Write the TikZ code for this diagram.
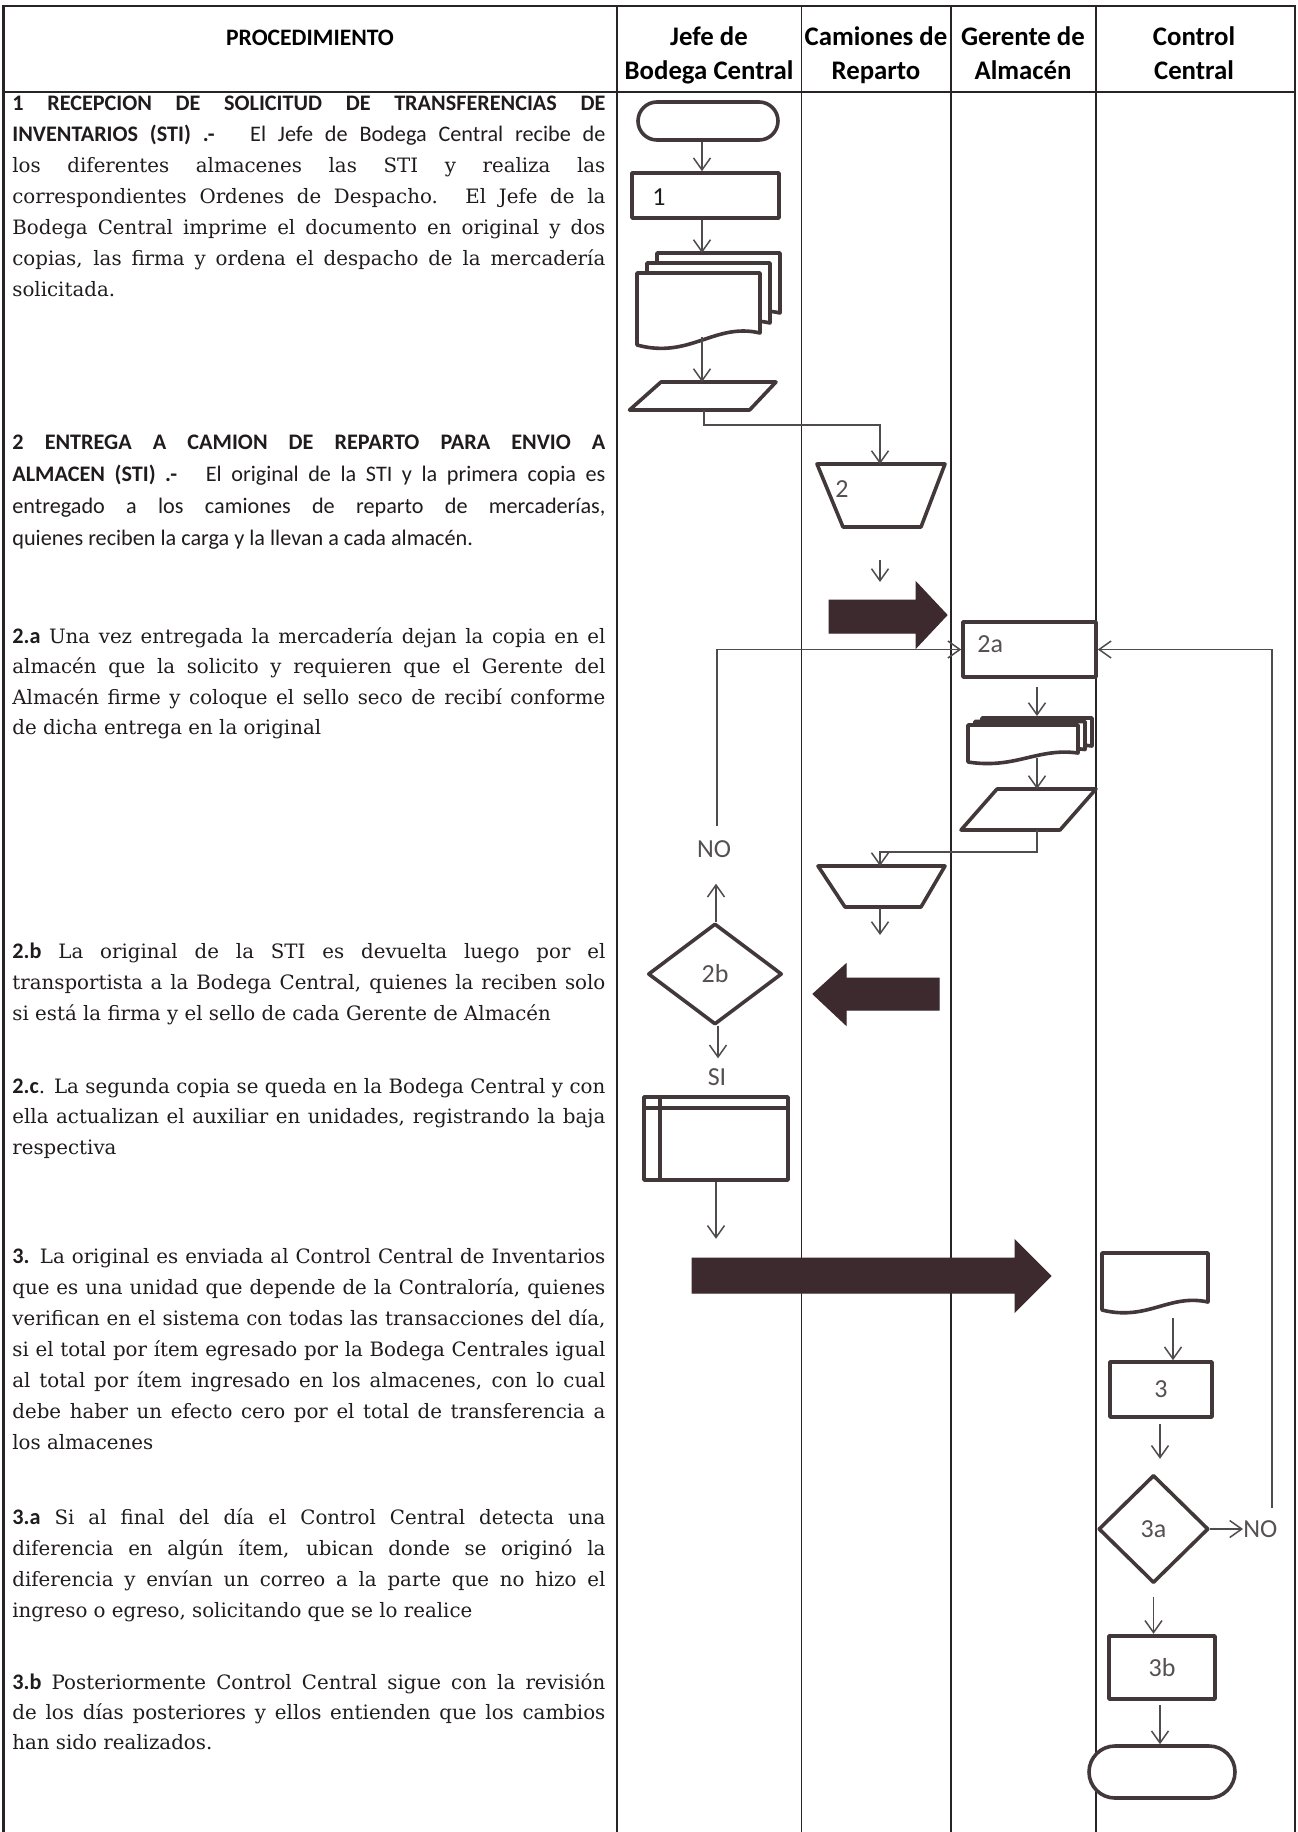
\documentclass[tikz,border=0pt]{standalone}
\usepackage{fontspec}
\setmainfont{DejaVu Serif}
\newfontfamily\calf{Carlito}
\usetikzlibrary{arrows.meta,shapes.geometric,shapes.misc}
\definecolor{framecol}{RGB}{40,36,38}
\definecolor{shapecol}{RGB}{66,56,58}
\definecolor{concol}{RGB}{80,75,77}
\definecolor{bigcol}{RGB}{60,42,47}
\definecolor{txtcol}{RGB}{32,28,30}
\definecolor{lblcol}{RGB}{85,80,82}
\newcommand\ca{\calf\fontsize{11.1pt}{13pt}\selectfont}
\newcommand\sersize{\fontsize{9.9pt}{12pt}\selectfont}
\newcommand\txj[3]{\node[txt,anchor=base west] (#1) at (12,#2) {\makebox[296.5pt][s]{#3}};}
\newcommand\txl[3]{\node[txt,anchor=base west] (#1) at (12,#2) {#3};}
\newcommand\docshape[5]{\path[shp] (#1,#3) -- (#2,#3) -- (#2,#5) .. controls ({#2-0.37*(#2-#1)},{#5-0.15*(#4-#3)}) and ({#1+0.43*(#2-#1)},{#4+0.2*(#4-#3)}) .. (#1,#4) -- cycle;}
\tikzset{
  frame/.style={draw=framecol, line width=1.4pt},
  lane/.style={draw=framecol, line width=0.8pt},
  shp/.style={draw=shapecol, line width=1.8pt, fill=white, line join=round},
  shpline/.style={draw=shapecol, line width=1.8pt},
  con/.style={draw=concol, line width=0.75pt},
  arr/.style={con, -{Straight Barb[length=6pt,width=8.5pt]}},
  bigarr/.style={fill=bigcol, draw=bigcol, line width=0.5pt, line join=miter},
  lbl/.style={font=\calf\fontsize{13pt}{15pt}\selectfont, text=lblcol, inner sep=0},
  txt/.style={inner sep=0, text=txtcol, font=\sersize},
  hdr/.style={inner sep=0, text=black, anchor=base, font=\calf\bfseries\fontsize{13.4pt}{15pt}\selectfont},
  hdrp/.style={inner sep=0, text=black, anchor=base, font=\calf\bfseries\fontsize{11.8pt}{14pt}\selectfont}
}
\begin{document}
\begin{tikzpicture}[x=0.5pt,y=-0.5pt]
\useasboundingbox (0,0) rectangle (1297,1832);
\fill[white] (0,0) rectangle (1297,1832);
% ---------- table ----------
\draw[frame] (3.5,1832) -- (3.5,6) -- (1295,6) -- (1295,1832);
\draw[frame] (3.5,92) -- (1295,92);
\foreach \xx in {617,801.5,951,1096} \draw[lane] (\xx,6) -- (\xx,1832);
% headers
\node[hdrp] (hproc) at (310,45) {PROCEDIMIENTO};
\node[hdr] (hj1) at (709,45) {Jefe de};
\node[hdr] (hj2) at (709,79) {Bodega Central};
\node[hdr] (hc1) at (876,45) {Camiones de};
\node[hdr] (hc2) at (876,79) {Reparto};
\node[hdr] (hg1) at (1023,45) {Gerente de};
\node[hdr] (hg2) at (1023,79) {Almacén};
\node[hdr] (hk1) at (1194,45) {Control};
\node[hdr] (hk2) at (1194,79) {Central};
% ---------- procedure text ----------
\txj{p1a}{110}{{\ca\bfseries 1 RECEPCION DE SOLICITUD DE TRANSFERENCIAS DE}}
\txj{p1b}{141}{{\ca\bfseries INVENTARIOS (STI) .-}{\ca\ \ \ El Jefe de Bodega Central recibe de}}
\txj{p1c}{172}{los diferentes almacenes las STI y realiza las}
\txj{p1d}{203}{correspondientes Ordenes de Despacho. El Jefe de la}
\txj{p1e}{234}{Bodega Central imprime el documento en original y dos}
\txj{p1f}{265}{copias, las firma y ordena el despacho de la mercadería}
\txl{p1g}{296}{solicitada.}
\txj{p2a}{449}{{\ca\bfseries 2 ENTREGA A CAMION DE REPARTO PARA ENVIO A}}
\txj{p2b}{481}{{\ca\bfseries ALMACEN (STI) .-}{\ca\ \ \ El original de la STI y la primera copia es}}
\txj{p2c}{513}{{\ca entregado a los camiones de reparto de mercaderías,}}
\txl{p2d}{545}{{\ca quienes reciben la carga y la llevan a cada almacén.}}
\txj{p3a}{643}{{\ca\bfseries 2.a} Una vez entregada la mercadería dejan la copia en el}
\txj{p3b}{673}{almacén que la solicito y requieren que el Gerente del}
\txj{p3c}{704}{Almacén firme y coloque el sello seco de recibí conforme}
\txl{p3d}{734}{de dicha entrega en la original}
\txj{p4a}{958}{{\ca\bfseries 2.b} La original de la STI es devuelta luego por el}
\txj{p4b}{989}{transportista a la Bodega Central, quienes la reciben solo}
\txl{p4c}{1020}{si está la firma y el sello de cada Gerente de Almacén}
\txj{p5a}{1093}{{\ca\bfseries 2.c}. La segunda copia se queda en la Bodega Central y con}
\txj{p5b}{1123}{ella actualizan el auxiliar en unidades, registrando la baja}
\txl{p5c}{1154}{respectiva}
\txj{p6a}{1263}{{\ca\bfseries 3.} La original es enviada al Control Central de Inventarios}
\txj{p6b}{1294}{que es una unidad que depende de la Contraloría, quienes}
\txj{p6c}{1325}{verifican en el sistema con todas las transacciones del día,}
\txj{p6d}{1356}{si el total por ítem egresado por la Bodega Centrales igual}
\txj{p6e}{1387}{al total por ítem ingresado en los almacenes, con lo cual}
\txj{p6f}{1418}{debe haber un efecto cero por el total de transferencia a}
\txl{p6g}{1449}{los almacenes}
\txj{p7a}{1524}{{\ca\bfseries 3.a} Si al final del día el Control Central detecta una}
\txj{p7b}{1555}{diferencia en algún ítem, ubican donde se originó la}
\txj{p7c}{1586}{diferencia y envían un correo a la parte que no hizo el}
\txl{p7d}{1617}{ingreso o egreso, solicitando que se lo realice}
\txj{p8a}{1689}{{\ca\bfseries 3.b} Posteriormente Control Central sigue con la revisión}
\txj{p8b}{1719}{de los días posteriores y ellos entienden que los cambios}
\txl{p8c}{1749}{han sido realizados.}
% ---------- Jefe de Bodega Central ----------
\coordinate (colJ) at (702,0);
\node[shp, rounded rectangle, minimum width=70pt, minimum height=19pt, inner sep=0] (start) at (708,121) {};
\node[shp, rectangle, minimum width=73.5pt, minimum height=22.5pt, inner sep=0] (b1) at (705.5,195.5) {};
\node[lbl, text=txtcol, anchor=west] (b1t) at (652,197) {1};
\draw[arr] (colJ |- start.south) -- (colJ |- b1.north);
\docshape{657}{780}{253}{325}{313}
\docshape{647}{770}{263}{335}{323}
\docshape{637}{760}{273}{345}{333}
\coordinate (md1t) at (702,253);
\coordinate (md1b) at (702,337);
\draw[arr] (colJ |- b1.south) -- (md1t);
\path[shp] (661,382) -- (776,382) -- (749.6,410) -- (629.5,410) -- cycle;
\coordinate (par1t) at (702,382);
\coordinate (par1b) at (704,410);
\draw[arr] (md1b) -- (par1t);
% ---------- Camiones: trapezium 2 ----------
\path[shp] (817,464) -- (945,464) -- (921,527) -- (843,527) -- cycle;
\coordinate (tr2t) at (880,464);
\coordinate (tr2b) at (880,527);
\node[lbl, anchor=west] (tr2l) at (835,489) {2};
\draw[arr] (par1b) -- ++(0,15) -| (tr2t);
\draw[arr] ([yshift=-16.5pt]tr2b) -- ([yshift=-27.5pt]tr2b);
\path[bigarr] (829,600) -- (916,600) -- (916,582) -- (947,615) -- (916,648) -- (916,633) -- (829,633) -- cycle;
% ---------- Gerente de Almacen ----------
\node[shp, rectangle, minimum width=66.5pt, minimum height=27.5pt, inner sep=0] (b2a) at (1029.5,649.5) {};
\node[lbl, anchor=west] (b2al) at (977,644) {2a};
\coordinate (colG) at (1037,0);
\draw[arr, shorten <=4pt] (colG |- b2a.south) -- (1037,716);
\docshape{982}{1092}{718}{755}{746}
\docshape{975}{1085}{721.5}{758.5}{749.5}
\docshape{968}{1078}{725}{762}{753}
\coordinate (md2b) at (1037,758);
\path[shp] (997,789) -- (1096,789) -- (1060,830) -- (961,830) -- cycle;
\coordinate (par2t) at (1037,789);
\coordinate (par2b) at (1037,830);
\draw[arr] (md2b) -- (par2t);
% ---------- Camiones: trapezium 3 ----------
\path[shp] (818,866) -- (945,866) -- (921,907) -- (845,907) -- cycle;
\coordinate (tr3t) at (880,866);
\coordinate (tr3b) at (880,907);
\draw[arr] (par2b) -- ++(0,22) -| (tr3t);
\draw[arr] ([yshift=-0.5pt]tr3b) -- ([yshift=-14pt]tr3b);
\path[bigarr] (939,978) -- (846,978) -- (846,964) -- (813,994) -- (846,1025) -- (846,1010) -- (939,1010) -- cycle;
% ---------- Jefe: decision 2b ----------
\node[shp, diamond, minimum width=67pt, minimum height=50.5pt, inner sep=0, font=\calf\fontsize{13pt}{15pt}\selectfont, text=lblcol] (d2b) at (715,974) {2b};
\node[lbl] (noL) at (714,849) {NO};
\node[lbl] (siL) at (717,1077) {SI};
\draw[arr] ([xshift=0.5pt]d2b.north) -- ([xshift=0.5pt,yshift=19pt]d2b.north);
\coordinate (noLtop) at (717,826);
\draw[arr] (noLtop) |- (b2a.west);
\draw[arr] ([xshift=1.5pt]d2b.south) -- ([xshift=1.5pt,yshift=-16pt]d2b.south);
\node[shp, rectangle, minimum width=72pt, minimum height=41.5pt, inner sep=0] (st) at (716,1138.5) {};
\draw[shpline] ([yshift=-6.5pt]st.north west) -- ([yshift=-6.5pt]st.north east);
\draw[shpline] ([xshift=9pt]st.north west) -- ([xshift=9pt]st.south west);
\draw[arr] (st.south) -- ([yshift=-28.5pt]st.south);
\path[bigarr] (692,1258) -- (1015,1258) -- (1015,1240) -- (1051,1276) -- (1015,1312) -- (1015,1293) -- (692,1293) -- cycle;
% ---------- Control Central ----------
\docshape{1102}{1208}{1253}{1310}{1302}
\coordinate (doc3b) at (1173,1318);
\node[shp, rectangle, minimum width=51pt, minimum height=27.5pt, inner sep=0, font=\calf\fontsize{13pt}{15pt}\selectfont, text=lblcol] (b3) at (1161,1389.5) {3};
\draw[arr] (doc3b) -- (doc3b |- b3.north);
\node[shp, diamond, minimum width=55pt, minimum height=54pt, inner sep=0, font=\calf\fontsize{13pt}{15pt}\selectfont, text=lblcol] (d3a) at (1153.5,1529) {3a};
\draw[arr] ([xshift=-0.5pt,yshift=-2.5pt]b3.south) -- ([xshift=-0.5pt,yshift=-20pt]b3.south);
\node[lbl, anchor=west] (noR) at (1243,1529) {NO};
\draw[arr] (d3a.east) -- (noR.west);
\coordinate (noRtop) at (1272,1508);
\draw[arr] (noRtop) |- (b2a.east);
\node[shp, rectangle, minimum width=53pt, minimum height=31.5pt, inner sep=0, font=\calf\fontsize{13pt}{15pt}\selectfont, text=lblcol] (b3b) at (1162,1667.5) {3b};
\draw[arr] ([yshift=-6pt]d3a.south) -- ([yshift=-24.5pt]d3a.south);
\node[shp, rounded rectangle, minimum width=73pt, minimum height=26pt, inner sep=0] (fin) at (1162,1772) {};
\draw[arr] ([xshift=-1pt,yshift=-2pt]b3b.south) -- ([xshift=-1pt]b3b.south |- fin.north);
\end{tikzpicture}
\end{document}
